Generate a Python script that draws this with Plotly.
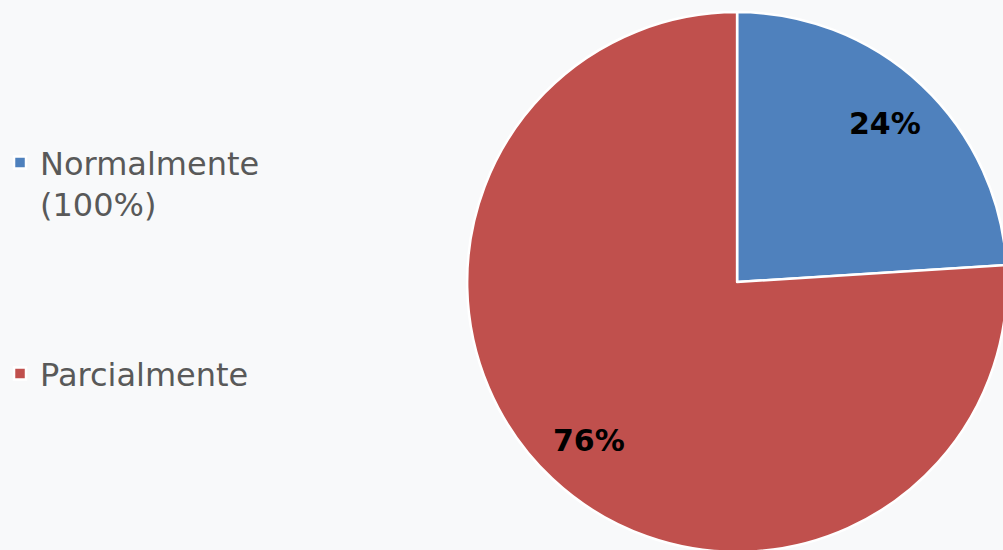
import math
import plotly.graph_objects as go

labels = ["Normalmente<br>(100%)<br> <br> <br>", "Parcialmente"]
values = [24, 76]
colors = ["#4F81BD", "#C0504D"]

W, H = 1010, 556
dom_x = [465 / W, 1007 / W]
dom_y = [3 / H, 545 / H]

fig = go.Figure(go.Pie(
    labels=labels,
    values=values,
    sort=False,
    direction="clockwise",
    rotation=0,
    marker=dict(colors=colors, line=dict(color="white", width=2.5)),
    textinfo="none",
    domain=dict(x=dom_x, y=dom_y),
    hoverinfo="label+percent",
))

# data labels at the mid-angle of each slice, ~0.8 of the radius
cx = (dom_x[0] + dom_x[1]) / 2
cy = (dom_y[0] + dom_y[1]) / 2
rpx = min((dom_x[1] - dom_x[0]) * W, (dom_y[1] - dom_y[0]) * H) / 2
total = sum(values)
start = 0.0
for v in values:
    mid = (start + v / 2) / total * 2 * math.pi
    start += v
    rr = 0.8 * rpx
    fig.add_annotation(
        x=cx + rr * math.sin(mid) / W,
        y=cy + rr * math.cos(mid) / H,
        xref="paper", yref="paper",
        xanchor="center", yanchor="middle",
        text=f"{round(100 * v / total)}%",
        showarrow=False,
        font=dict(family="DejaVu Sans", size=30, color="black", weight="bold"),
    )

fig.update_layout(
    width=W, height=H,
    margin=dict(l=0, r=0, t=0, b=0),
    paper_bgcolor="#f8f9fa",
    plot_bgcolor="#f8f9fa",
    showlegend=True,
    legend=dict(
        x=-4 / W, xanchor="left", y=0.757, yanchor="top",
        valign="top",
        font=dict(family="DejaVu Sans", size=32, color="#595959"),
        bgcolor="rgba(0,0,0,0)",
    ),
)

fig.write_html(
    "out.html",
    config={"displayModeBar": False},
    post_script="document.body.style.margin='0';document.body.style.overflow='hidden';",
)
